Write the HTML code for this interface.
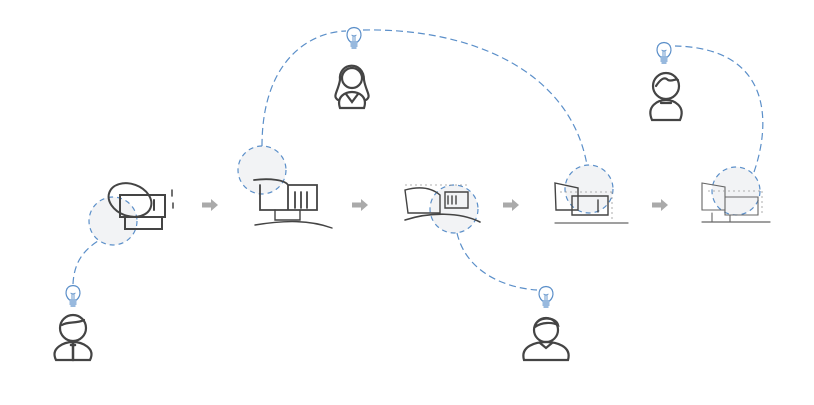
<!DOCTYPE html>
<html><head><meta charset="utf-8"><style>html,body{margin:0;padding:0;background:#fff}svg{display:block}</style></head>
<body>
<svg width="814" height="405" viewBox="0 0 814 405" xmlns="http://www.w3.org/2000/svg">
<defs>
<g id="bulb" fill="none" stroke="#5b8fc9" stroke-width="1.2">
<path d="M-3.5,5 C-9,0 -8,-9 0,-9.5 C8,-9 9,0 3.5,5 Z"/>
<path d="M-3.5,7 H3.5 M-3.5,9 H3.5 M-2.5,11 H2.5"/>
<path d="M-1,4 V-1 M1,4 V-1 M-2.5,-2 L0,-1 L2.5,-2" stroke-width="0.9"/>
</g>
<g id="arrow" fill="#aaa"><path d="M-8,-2.5 H1 V-6 L8,0 L1,6 V2.5 H-8 Z"/></g>
</defs>
<g fill="none" stroke="#5b8fc9" stroke-width="1.2" stroke-dasharray="7,4">
<path d="M73,284 C74,262 84,250 98,241"/>
<path d="M262,146 C262,60 310,32 346,31"/>
<path d="M363,30 C470,28 570,70 587,165"/>
<path d="M754,172 C772,120 770,48 675,46"/>
<path d="M457,233 C466,272 505,288 537,290"/>
</g>
<g fill="#f2f3f5" stroke="#5b8fc9" stroke-width="1.2" stroke-dasharray="5,4">
<circle cx="113" cy="221" r="24"/>
<circle cx="262" cy="170" r="24"/>
<circle cx="454" cy="209" r="24"/>
<circle cx="589" cy="189" r="24"/>
<circle cx="736" cy="191" r="24"/>
</g>
<g fill="none" stroke="#444" stroke-width="2" stroke-linecap="round">
<ellipse cx="130" cy="200" rx="22" ry="16" transform="rotate(20 130 200)"/>
<path d="M120,195 H165 V217 H120 Z M125,217 V229 H162 V217 M154,200 V210"/>
<path d="M172,190 V196 M173,203 V208" stroke-width="1.5"/>
<path d="M254,180 C270,178 285,180 288,185 V210 H260 V185 M288,185 H317 V210 H288 M295,192 V208 M301,192 V208 M307,192 V208" stroke-width="1.8"/>
<path d="M255,225 C285,220 310,220 332,228" stroke-width="1.4"/>
<path d="M275,210 V220 H300 V210" stroke-width="1.4"/>
<path d="M405,190 C420,186 432,188 440,195 V213 H408 Z M445,192 H468 V208 H445 Z M448,196 V204 M452,196 V204 M456,196 V204" stroke-width="1.4"/>
<path d="M405,220 C430,212 460,212 480,222" stroke-width="1.6"/>
<path d="M555,183 L578,188 V210 H556 Z M572,196 H608 V215 H572 Z M598,200 V212" stroke-width="1.4"/>
<path d="M555,223 H628" stroke-width="1.2" stroke="#666"/>
<path d="M702,183 L725,187 V210 H702 Z M725,197 H758 V215 H725 Z M712,213 V222 M730,215 V222" stroke-width="1.1" stroke="#666"/>
<path d="M702,222 H770" stroke-width="1.2" stroke="#666"/>
</g>
<g fill="none" stroke="#999" stroke-width="0.8" stroke-dasharray="2,3">
<path d="M405,185 H468 M560,192 H612 M708,191 H760 M612,192 V222 M762,191 V215"/>
</g>
<use href="#arrow" x="210" y="205"/>
<use href="#arrow" x="360" y="205"/>
<use href="#arrow" x="511" y="205"/>
<use href="#arrow" x="660" y="205"/>
<use href="#bulb" x="73" y="295"/>
<use href="#bulb" x="354" y="37"/>
<use href="#bulb" x="664" y="52"/>
<use href="#bulb" x="546" y="296"/>
<g fill="none" stroke="#444" stroke-width="2.2" stroke-linecap="round">
<circle cx="73" cy="328" r="13"/>
<path d="M62,325 C68,321 76,324 84,320"/>
<path d="M56,360 C50,348 64,342 73,342 C82,342 96,348 90,360 Z"/>
<path d="M73,343 V360 M71,345 H75" stroke-width="2.5"/>
<path d="M340,80 C338,62 364,60 364,80 C366,92 372,96 366,100 M340,80 C338,92 332,96 338,100"/>
<circle cx="352" cy="78" r="10"/>
<path d="M340,108 C336,96 346,92 352,92 C358,92 368,96 364,108 Z M346,94 L352,102 L358,94"/>
<circle cx="666" cy="86" r="13"/>
<path d="M656,86 C660,80 664,76 668,80 C672,82 676,78 678,80"/>
<path d="M652,120 C646,106 658,100 666,100 C674,100 686,106 680,120 Z M661,103 H671"/>
<circle cx="546" cy="330" r="12"/>
<path d="M535,327 C536,316 556,316 558,325 C552,322 542,322 535,327"/>
<path d="M524,360 C520,346 536,342 546,342 C556,342 572,346 568,360 Z M540,343 L546,348 L552,343"/>
</g>
</svg>
</body></html>
